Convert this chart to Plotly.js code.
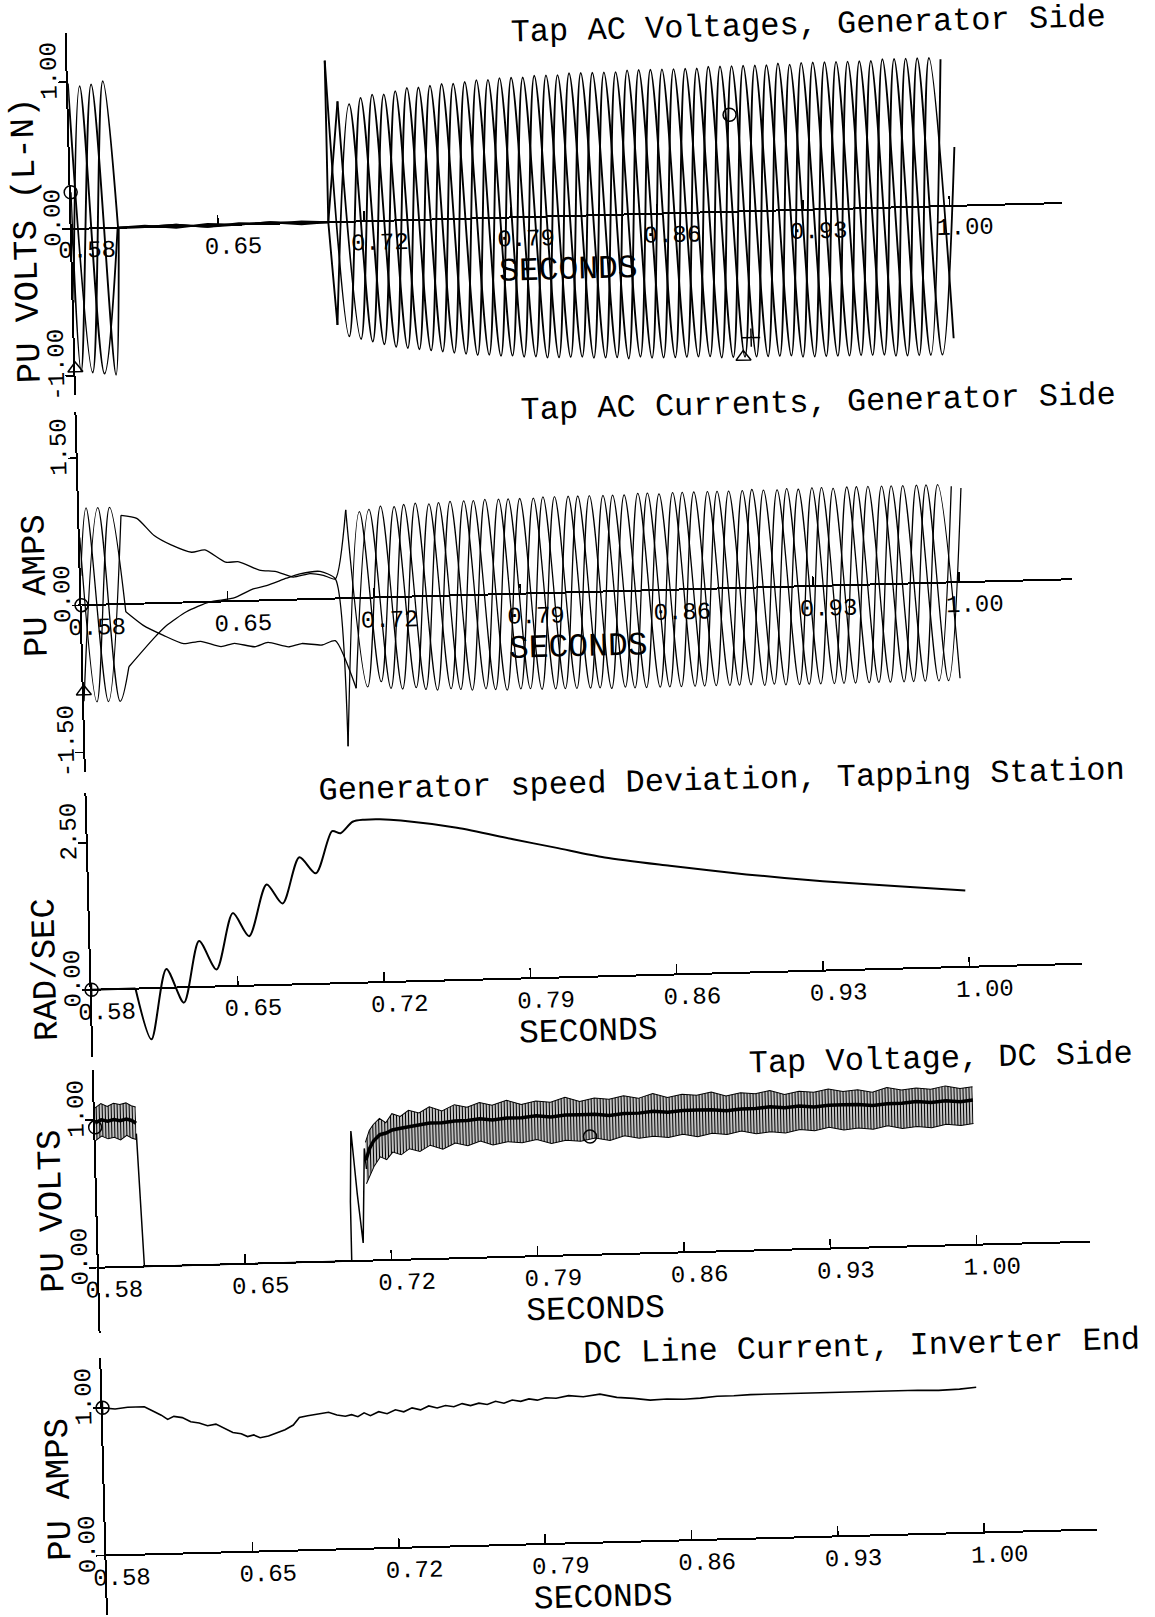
<!DOCTYPE html>
<html>
<head>
<meta charset="utf-8">
<script src="https://cdn.plot.ly/plotly-3.0.1.min.js"></script>
<style>
html,body{margin:0;padding:0;background:#fff;overflow:hidden;}
#chart{width:1155px;height:1617px;transform:rotate(-1.5deg);transform-origin:577.5px 808.5px;}
</style>
</head>
<body>
<div id="chart"></div>
<script>
// ---------------- DATA ----------------
const xTickVals = [0.58, 0.65, 0.72, 0.79, 0.86, 0.93, 1.00];
const xTickText = ['0.58', '0.65', '0.72', '0.79', '0.86', '0.93', '1.00'];
const panelTitles = ['Tap AC Voltages, Generator Side', 'Tap AC Currents, Generator Side',
  'Generator speed Deviation, Tapping Station', 'Tap Voltage, DC Side', 'DC Line Current, Inverter End'];
const yTitles = ['PU VOLTS (L-N)', 'PU AMPS', 'RAD/SEC', 'PU VOLTS', 'PU AMPS'];
const xTitle = 'SECONDS';
const yTickVals = [[-1, 0, 1], [-1.5, 0, 1.5], [0, 2.5], [0, 1], [0, 1]];
const yTickText = [['-1.00', '0.00', '1.00'], ['-1.50', '0.00', '1.50'], ['0.00', '2.50'], ['0.00', '1.00'], ['0.00', '1.00']];
const yRanges = [[-1.13, 1.333], [-1.70, 1.97], [-1.14, 3.35], [-0.44, 1.34], [-0.40, 1.34]];
const xRange = [0.58, 1.054];

// half-cycle spacing of the peak readings (s)
const halfCycle = 0.008333;

// Panel 1: tap AC voltages - pre-fault peaks
const v1PreTA = [0.5800, 0.5883, 0.5967, 0.6022];
const v1PreA  = [0.99, -0.98, 1.00, 0.00];
const v1PreTB = [0.5800, 0.5856, 0.5939, 0.6020];
const v1PreB  = [-0.50, 0.97, -0.99, 0.00];
const v1PreTC = [0.5800, 0.5828, 0.5911, 0.5994, 0.6025];
const v1PreC  = [0.25, -0.97, 0.98, -1.00, 0.00];
// Panel 1: during the fault (ends at the first reading after reclosing)
const v1FaultTA = [0.6022, 0.6150, 0.6300, 0.6450, 0.6600, 0.6750, 0.6900, 0.7028, 0.7087];
const v1FaultA  = [0.00, 0.01, -0.01, 0.01, 0.00, 0.01, -0.01, 0.00, 0.82];
const v1FaultTB = [0.6020, 0.6150, 0.6300, 0.6450, 0.6600, 0.6750, 0.6900, 0.7028, 0.7059];
const v1FaultB  = [0.00, 0.00, 0.01, -0.01, 0.01, 0.00, 0.01, 0.00, -0.70];
const v1FaultTC = [0.6025, 0.6150, 0.6300, 0.6450, 0.6600, 0.6750, 0.6900, 0.7028, 0.7031];
const v1FaultC  = [0.00, 0.00, 0.01, -0.01, 0.00, 0.01, 0.00, 0.00, 1.10];
// Panel 1: after reclosing, half-cycle peaks per phase
const v1PostStart = [0.7087, 0.7059, 0.7031];
const v1PostA = [0.82, -0.80, 0.86, -0.86, 0.90, -0.89, 0.92, -0.92, 0.94,
  -0.94, 0.95, -0.95, 0.96, -0.96, 0.97, -0.97, 0.97, -0.97, 0.98,
  -0.98, 0.98, -0.98, 0.99, -0.99, 0.99, -0.99, 0.99, -1.00, 1.00,
  -1.00, 1.00, -1.00, 1.01, -1.01, 1.01, -0.90];
const v1PostB = [-0.70, 0.80, -0.82, 0.86, -0.87, 0.90, -0.90, 0.92, -0.93,
  0.94, -0.94, 0.95, -0.96, 0.96, -0.96, 0.97, -0.97, 0.98, -0.98,
  0.98, -0.98, 0.98, -0.99, 0.99, -0.99, 0.99, -0.99, 1.00, -1.00,
  1.00, -1.00, 1.00, -1.01, 1.01, -1.01, 1.00];
const v1PostC = [1.10, -0.78, 0.84, -0.84, 0.88, -0.88, 0.91, -0.91, 0.93,
  -0.93, 0.95, -0.95, 0.96, -0.96, 0.97, -0.97, 0.97, -0.98, 0.98,
  -0.98, 0.98, -0.98, 0.99, -0.99, 0.99, -0.99, 1.00, -1.00, 1.00,
  -1.00, 1.00, -1.00, 1.01, -1.01, 1.01, -1.01, 0.40];

// Panel 2: tap AC currents - pre-fault peaks
const i2PreTA = [0.5800, 0.5834, 0.5917, 0.6000];
const i2PreA  = [0.30, 0.99, -0.99, 0.905];
const i2PreTB = [0.5800, 0.5890, 0.5973, 0.6019];
const i2PreB  = [-0.98, 0.99, -0.99, -0.64];
const i2PreTC = [0.5800, 0.5862, 0.5946, 0.6011];
const i2PreC  = [0.69, -0.99, 0.99, -0.08];
// Panel 2: during the fault (ends at the first reading after reclosing)
const i2FaultTA = [0.6000, 0.6075, 0.6156, 0.6236, 0.6333, 0.6397, 0.6494, 0.6558, 0.6655, 0.6735, 0.6815, 0.6896, 0.6960, 0.7017, 0.7075];
const i2FaultA  = [0.905, 0.87, 0.69, 0.59, 0.51, 0.53, 0.40, 0.40, 0.31, 0.29, 0.23, 0.26, 0.24, 0.20, 0.90];
const i2FaultTB = [0.6019, 0.6140, 0.6204, 0.6301, 0.6413, 0.6526, 0.6623, 0.6687, 0.6784, 0.6848, 0.6945, 0.7017, 0.7057];
const i2FaultB  = [-0.64, -0.36, -0.23, -0.095, 0.00, 0.03, 0.12, 0.15, 0.22, 0.26, 0.28, 0.20, -1.51];
const i2FaultTC = [0.6011, 0.6091, 0.6188, 0.6284, 0.6365, 0.6462, 0.6526, 0.6623, 0.6687, 0.6784, 0.6848, 0.6945, 0.7009, 0.7103];
const i2FaultC  = [-0.08, -0.22, -0.33, -0.42, -0.40, -0.46, -0.43, -0.47, -0.43, -0.48, -0.45, -0.47, -0.43, -0.92];
// Panel 2: after reclosing, half-cycle peaks per phase
const i2PostStart = [0.7075, 0.7057, 0.7103];
const i2PostA = [0.90, -0.91, 0.93, -0.94, 0.95, -0.96, 0.96, -0.97, 0.97,
  -0.98, 0.97, -0.98, 0.98, -0.98, 0.98, -0.99, 0.98, -0.99, 0.98,
  -0.99, 0.99, -0.99, 0.99, -0.99, 0.99, -1.00, 0.99, -1.00, 0.99,
  -1.00, 1.00, -1.00, 1.00, -1.00, 1.00, -0.98];
const i2PostB = [-1.51, 0.88, -0.86, 0.92, -0.93, 0.94, -0.95, 0.96, -0.96,
  0.97, -0.97, 0.97, -0.98, 0.98, -0.98, 0.98, -0.98, 0.99, -0.99,
  0.99, -0.99, 0.99, -0.99, 0.99, -1.00, 0.99, -1.00, 1.00, -1.00,
  1.00, -1.00, 1.00, -1.00, 1.00, -1.00, 0.98];
const i2PostC = [-0.92, 0.90, -0.93, 0.94, -0.95, 0.95, -0.96, 0.96, -0.97,
  0.97, -0.97, 0.98, -0.98, 0.98, -0.98, 0.98, -0.99, 0.99, -0.99,
  0.99, -0.99, 0.99, -0.99, 1.00, -0.99, 1.00, -1.00, 1.00, -1.00,
  1.00, -1.00, 1.00, -1.00, 1.00, -1.00, 0.96];

// Panel 3: generator speed deviation
const speedFlatT = [0.580, 0.601];
const speedFlatV = [0.00, 0.00];
const speedT = [0.601, 0.608, 0.616, 0.624, 0.632, 0.640, 0.6485, 0.656, 0.665, 0.6724, 0.681, 0.6887, 0.697,
  0.701, 0.7069, 0.7126, 0.720, 0.730, 0.7567, 0.7834, 0.8036, 0.827, 0.858, 0.8945, 0.931, 0.967, 0.999];
const speedV = [0.00, -0.87, 0.32, -0.26, 0.78, 0.29, 1.24, 0.84, 1.71, 1.38, 2.16, 1.88, 2.59,
  2.55, 2.74, 2.77, 2.77, 2.74, 2.59, 2.37, 2.21, 2.02, 1.85, 1.67, 1.52, 1.40, 1.30];

// Panel 4: DC side tap voltage (ripple band edges + core)
const dcPreT    = [0.5800, 0.5830, 0.5860, 0.5890, 0.5920, 0.5950, 0.5975, 0.5996];
const dcPreHigh = [1.08, 1.11, 1.09, 1.11, 1.10, 1.11, 1.09, 1.08];
const dcPreLow  = [0.86, 0.89, 0.87, 0.88, 0.86, 0.89, 0.87, 0.86];
const dcPreCore = [0.98, 1.00, 0.99, 1.00, 0.99, 1.00, 0.99, 0.97];
const dcLineT = [0.5996, 0.6018, 0.6300, 0.6600, 0.6900, 0.7010, 0.7011, 0.7022, 0.7045, 0.7067, 0.7084, 0.7092];
const dcLineV = [0.90, 0.00, 0.00, 0.00, 0.00, 0.00, 0.40, 0.88, 0.45, 0.12, 0.76, 0.62];
const dcPostT = [0.709, 0.711, 0.713, 0.716, 0.719, 0.722, 0.726, 0.730, 0.735, 0.740, 0.746, 0.752,
  0.758, 0.764, 0.770, 0.777, 0.784, 0.791, 0.798, 0.805, 0.812, 0.819, 0.826, 0.833,
  0.840, 0.847, 0.854, 0.861, 0.868, 0.875, 0.882, 0.889, 0.896, 0.903, 0.910, 0.917,
  0.924, 0.931, 0.938, 0.945, 0.952, 0.959, 0.966, 0.973, 0.980, 0.987, 0.994, 1.000];
const dcPostHigh = [0.80, 0.88, 0.92, 0.96, 0.93, 0.99, 0.97, 1.01, 0.99, 1.03, 1.00, 1.04,
  1.02, 1.05, 1.03, 1.06, 1.03, 1.05, 1.04, 1.07, 1.04, 1.06, 1.05, 1.07,
  1.05, 1.08, 1.05, 1.07, 1.06, 1.08, 1.05, 1.07, 1.06, 1.08, 1.05, 1.07,
  1.06, 1.08, 1.06, 1.07, 1.05, 1.08, 1.06, 1.07, 1.06, 1.08, 1.06, 1.07];
const dcPostLow = [0.52, 0.58, 0.64, 0.70, 0.68, 0.73, 0.71, 0.75, 0.73, 0.77, 0.74, 0.78,
  0.76, 0.79, 0.76, 0.78, 0.77, 0.79, 0.76, 0.78, 0.77, 0.79, 0.77, 0.80,
  0.78, 0.79, 0.78, 0.80, 0.78, 0.80, 0.79, 0.81, 0.79, 0.80, 0.79, 0.81,
  0.80, 0.82, 0.80, 0.81, 0.80, 0.82, 0.80, 0.81, 0.80, 0.82, 0.81, 0.82];
const dcPostCore = [0.68, 0.76, 0.81, 0.85, 0.86, 0.88, 0.89, 0.90, 0.91, 0.92, 0.92, 0.93,
  0.93, 0.94, 0.93, 0.94, 0.94, 0.95, 0.94, 0.95, 0.95, 0.95, 0.94, 0.95,
  0.95, 0.96, 0.95, 0.96, 0.96, 0.96, 0.95, 0.96, 0.96, 0.97, 0.96, 0.97,
  0.96, 0.97, 0.97, 0.97, 0.96, 0.97, 0.97, 0.98, 0.97, 0.98, 0.97, 0.98];

// Panel 5: DC line current, inverter end
const idcT = [0.580, 0.586, 0.592, 0.600, 0.604, 0.608, 0.611, 0.614, 0.618, 0.622, 0.626, 0.630, 0.634, 0.638,
  0.642, 0.646, 0.649, 0.652, 0.655, 0.659, 0.663, 0.667, 0.671, 0.674, 0.678, 0.683, 0.688, 0.692, 0.696,
  0.699, 0.702, 0.705, 0.708, 0.712, 0.716, 0.720, 0.724, 0.728, 0.732, 0.736, 0.740, 0.744, 0.748, 0.752,
  0.756, 0.760, 0.764, 0.768, 0.772, 0.776, 0.780, 0.784, 0.788, 0.792, 0.797, 0.803, 0.810, 0.818, 0.826,
  0.834, 0.842, 0.850, 0.858, 0.866, 0.874, 0.882, 0.890, 0.900, 0.910, 0.920, 0.930, 0.940, 0.950, 0.960,
  0.970, 0.980, 0.990, 0.998];
const idcV = [1.00, 0.99, 1.00, 1.00, 0.97, 0.94, 0.91, 0.93, 0.92, 0.89, 0.88, 0.86, 0.87, 0.84,
  0.81, 0.80, 0.78, 0.79, 0.77, 0.78, 0.80, 0.82, 0.85, 0.90, 0.91, 0.92, 0.93, 0.91, 0.90,
  0.91, 0.895, 0.92, 0.90, 0.925, 0.91, 0.935, 0.92, 0.945, 0.93, 0.955, 0.94, 0.955, 0.945, 0.965,
  0.95, 0.965, 0.955, 0.975, 0.96, 0.98, 0.97, 0.985, 0.975, 0.99, 0.985, 1.00, 0.99, 1.005, 0.98,
  0.97, 0.955, 0.96, 0.955, 0.96, 0.97, 0.97, 0.975, 0.975, 0.975, 0.975, 0.98, 0.975, 0.975, 0.975,
  0.975, 0.97, 0.975, 0.985];

// curve identification symbols [panel, t, value, symbol]
const markPanel  = [1, 1, 1, 1, 1, 2, 2, 3, 4, 4, 5];
const markT      = [0.58, 0.58, 0.896, 0.8996, 0.9035, 0.58, 0.58, 0.58, 0.58, 0.8165, 0.58];
const markV      = [0.25, -0.95, 0.66, -0.99, -0.86, 0.00, -0.88, 0.00, 0.95, 0.80, 1.00];
const markSymbol = ['circle-open', 'triangle-up-open', 'circle-open', 'triangle-up-open', 'cross-thin-open',
  'circle-open', 'triangle-up-open', 'circle-cross-open', 'circle-open', 'circle-open', 'circle-cross-open'];

// ---------------- GEOMETRY / STYLE ----------------
const W = 1155, H = 1617;
const plotLeft = 87, plotRight = 1078;
const panelPx = [[20, 382], [399, 759], [780, 1044], [1057, 1320], [1345, 1602]];
const titleRight = 1128;
const titleCenterY = [31, 409, 784, 1068, 1354];
const yTitleX = 42;
const yTitleCenterY = [226, 572, 956, 1198, 1476];
const xLabelStandoff = [-1, 0, 0, 0, 0];
const xTitleStandoff = [4, 4, 4, 0, 10];
const monoFont = 'Liberation Mono, Courier New, monospace';
const INK = '#000';

const ax = n => (n === 1 ? '' : String(n));
const data = [];
function line(n, extra, width, shape, smooth) {
  return Object.assign({
    type: 'scatter', mode: 'lines', xaxis: 'x' + ax(n), yaxis: 'y' + ax(n),
    line: {color: INK, width: width, shape: shape || 'linear', smoothing: smooth || 1},
    hoverinfo: 'skip', showlegend: false
  }, extra);
}

// Panel 1
[[v1PreTA, v1PreA], [v1PreTB, v1PreB], [v1PreTC, v1PreC]].forEach(([t, v]) =>
  data.push(line(1, {x: t, y: v}, 1.9, 'spline')));
[[v1FaultTA, v1FaultA], [v1FaultTB, v1FaultB], [v1FaultTC, v1FaultC]].forEach(([t, v]) =>
  data.push(line(1, {x: t, y: v}, 1.9)));
[v1PostA, v1PostB, v1PostC].forEach((arr, k) =>
  data.push(line(1, {x0: v1PostStart[k], dx: halfCycle, y: arr}, 1.9, 'spline')));
// Panel 2
[[i2PreTA, i2PreA], [i2PreTB, i2PreB], [i2PreTC, i2PreC]].forEach(([t, v]) =>
  data.push(line(2, {x: t, y: v}, 1.3, 'spline')));
[[i2FaultTA, i2FaultA], [i2FaultTB, i2FaultB], [i2FaultTC, i2FaultC]].forEach(([t, v]) =>
  data.push(line(2, {x: t, y: v}, 1.3, 'spline', 0.6)));
[i2PostA, i2PostB, i2PostC].forEach((arr, k) =>
  data.push(line(2, {x0: i2PostStart[k], dx: halfCycle, y: arr}, 1.3, 'spline')));
// Panel 3
data.push(line(3, {x: speedFlatT, y: speedFlatV}, 2));
data.push(line(3, {x: speedT, y: speedV}, 2, 'spline', 0.8));
// Panel 4
const bandPattern = {shape: '|', size: 3, solidity: 0.5, fgcolor: INK, bgcolor: 'rgba(0,0,0,0)'};
data.push(line(4, {x: dcPreT, y: dcPreLow}, 1));
data.push(line(4, {x: dcPreT, y: dcPreHigh, fill: 'tonexty', fillcolor: 'rgba(0,0,0,0.45)', fillpattern: bandPattern}, 1));
data.push(line(4, {x: dcPostT, y: dcPostLow}, 1));
data.push(line(4, {x: dcPostT, y: dcPostHigh, fill: 'tonexty', fillcolor: 'rgba(0,0,0,0.45)', fillpattern: bandPattern}, 1));
data.push(line(4, {x: dcPreT, y: dcPreCore}, 3.5));
data.push(line(4, {x: dcPostT, y: dcPostCore}, 3.5));
data.push(line(4, {x: dcLineT, y: dcLineV}, 1.5));
// Panel 5
data.push(line(5, {x: idcT, y: idcV}, 1.6));
// symbols
for (let n = 1; n <= 5; n++) {
  const idx = markPanel.map((p, i) => p === n ? i : -1).filter(i => i >= 0);
  data.push({
    type: 'scatter', mode: 'markers', xaxis: 'x' + ax(n), yaxis: 'y' + ax(n),
    x: idx.map(i => markT[i]), y: idx.map(i => markV[i]),
    marker: {symbol: idx.map(i => markSymbol[i]), size: 13, color: INK, line: {color: INK, width: 1.5}},
    hoverinfo: 'skip', showlegend: false, cliponaxis: false
  });
}

const layout = {
  width: W, height: H, margin: {l: 0, r: 0, t: 0, b: 0},
  paper_bgcolor: '#fff', plot_bgcolor: 'rgba(0,0,0,0)', showlegend: false,
  annotations: []
};
for (let n = 1; n <= 5; n++) {
  const [topPx, botPx] = panelPx[n - 1];
  const dom = [1 - botPx / H, 1 - topPx / H];
  const r = yRanges[n - 1];
  const zeroPos = dom[0] + (0 - r[0]) / (r[1] - r[0]) * (dom[1] - dom[0]);
  layout['xaxis' + ax(n)] = {
    domain: [plotLeft / W, plotRight / W], range: xRange, anchor: 'free', position: zeroPos,
    showline: true, linecolor: INK, linewidth: 2, showgrid: false, zeroline: false,
    ticks: 'inside', ticklen: 9, tickwidth: 1.5, tickcolor: INK,
    tickvals: xTickVals, ticktext: xTickText,
    tickfont: {family: monoFont, size: 24, color: INK},
    ticklabelshift: 15, ticklabelstandoff: xLabelStandoff[n - 1],
    title: {text: xTitle, font: {family: monoFont, size: 33, color: INK}, standoff: xTitleStandoff[n - 1]},
    fixedrange: true
  };
  layout['yaxis' + ax(n)] = {
    domain: dom, range: r, anchor: 'x' + ax(n),
    showline: true, linecolor: INK, linewidth: 2, showgrid: false, zeroline: false,
    ticks: 'outside', ticklen: 8, tickwidth: 1.5, tickcolor: INK,
    tickvals: yTickVals[n - 1], ticktext: yTickText[n - 1], tickangle: -90,
    tickfont: {family: monoFont, size: 24, color: INK},
    ticklabelshift: -8, ticklabelstandoff: -8,
    fixedrange: true
  };
  layout.annotations.push({
    xref: 'paper', yref: 'paper', x: titleRight / W, y: 1 - titleCenterY[n - 1] / H,
    xanchor: 'right', yanchor: 'middle', showarrow: false, text: panelTitles[n - 1],
    font: {family: monoFont, size: 32, color: INK}
  });
  layout.annotations.push({
    xref: 'paper', yref: 'paper', x: yTitleX / W, y: 1 - yTitleCenterY[n - 1] / H,
    xanchor: 'center', yanchor: 'middle', showarrow: false, text: yTitles[n - 1], textangle: -90,
    font: {family: monoFont, size: 34, color: INK}
  });
}

Plotly.newPlot('chart', data, layout, {staticPlot: true});
</script>
</body>
</html>
